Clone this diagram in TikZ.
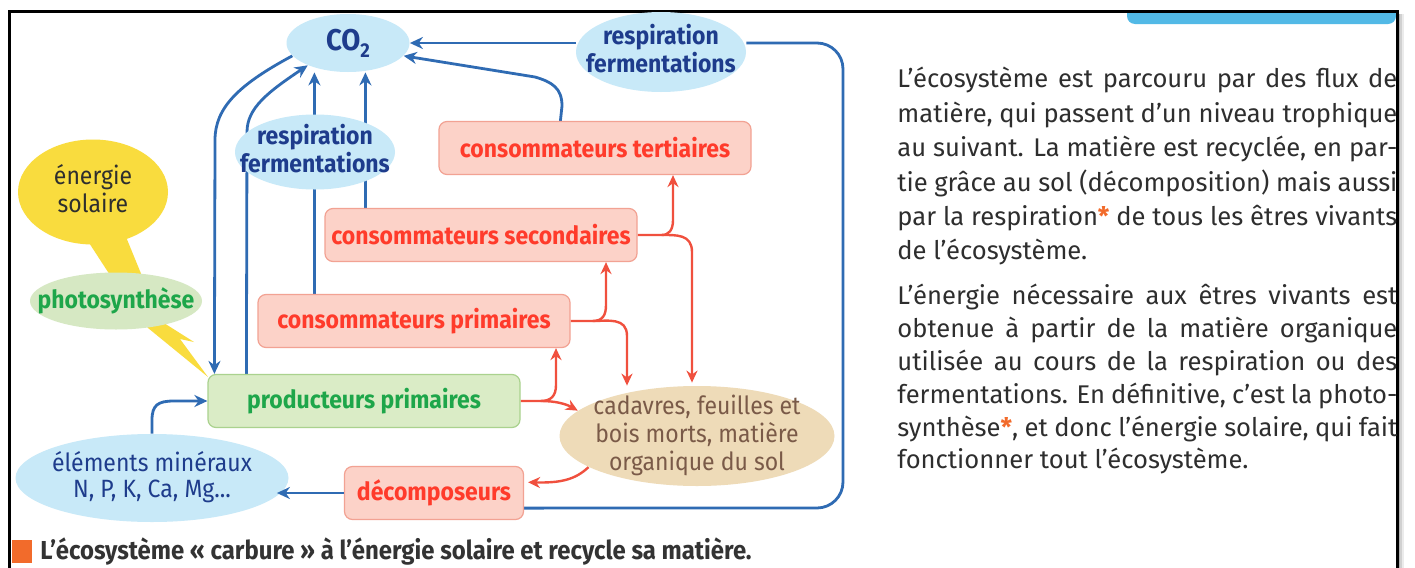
\documentclass[tikz,border=0pt]{standalone}
\usepackage{fontspec}
\setmainfont{Fira Sans}
\newfontfamily\din{Fira Sans}[FakeStretch=0.92]
\usetikzlibrary{arrows.meta,shapes.geometric,calc}
\pgfdeclarelayer{back}
\pgfdeclarelayer{bg}
\pgfsetlayers{back,bg,main}

% text of an ellipse node: centred, taking no room, so the ellipse keeps its set size
\newcommand\ellipsetext[1]{\makebox[0pt]{\smash{\raisebox{-0.26em}{%
  \begin{tabular}{@{}c@{}}#1\end{tabular}}}}}

\definecolor{skyfill}{HTML}{C8E9F8}
\definecolor{navytext}{HTML}{1E3C8C}
\definecolor{flowblue}{HTML}{2F6BB3}
\definecolor{pinkfill}{HTML}{FCD2C8}
\definecolor{pinkline}{HTML}{F2A293}
\definecolor{redtext}{HTML}{FF3B2B}
\definecolor{flowred}{HTML}{F0503E}
\definecolor{greenfill}{HTML}{DAECC6}
\definecolor{greenline}{HTML}{AAD28E}
\definecolor{greentext}{HTML}{1EA64A}
\definecolor{photofill}{HTML}{D6E8C3}
\definecolor{tanfill}{HTML}{EEDBB8}
\definecolor{browntext}{HTML}{7A5A48}
\definecolor{sunyellow}{HTML}{F9DC3E}
\definecolor{tabblue}{HTML}{52B9E6}
\definecolor{captiongrey}{HTML}{333333}
\definecolor{bodygrey}{HTML}{2E2E2E}
\definecolor{squareorange}{HTML}{F26B2B}

\tikzset{
  labelfont/.style={font=\din\bfseries\fontsize{12.5}{13}\selectfont},
  ellip/.style={ellipse, inner sep=0pt},
  sky/.style={ellip, fill=skyfill, text=navytext, labelfont},
  levelbox/.style={rounded corners=4pt, draw, line width=0.6pt, inner sep=0pt,
    minimum width=156pt, minimum height=26.5pt, labelfont},
  cons/.style={levelbox, fill=pinkfill, draw=pinkline, text=redtext},
  blueflow/.style={draw=flowblue, line width=1.4pt, -{Stealth[length=6.5pt,width=6pt]}},
  blueline/.style={draw=flowblue, line width=1.4pt},
  redflow/.style={draw=flowred, line width=1.2pt, -{Stealth[length=6pt,width=5.5pt]}},
}

\begin{document}
\begin{tikzpicture}[x=0.5pt,y=-0.5pt]
\useasboundingbox (0,0) rectangle (1415,568);

\begin{pgfonlayer}{back}
  \fill[white] (0,0) rectangle (1415,568);
  % tab at the top right, cut by the frame
  \fill[tabblue, rounded corners=4pt] (1127,0) rectangle (1396,24);
  \fill[white] (0,0) rectangle (1415,10);
\end{pgfonlayer}

% frame with its shadow
\foreach \d/\o in {2/0.30,4/0.18,6/0.08}
  \draw[black, opacity=\o, line width=1.2pt] (1397+\d,14) -- (1397+\d,568);
\draw[black, line width=1.5pt] (9,568) -- (9,11) -- (1397,11) -- (1397,568);

% ---- nodes ----
\node[sky, minimum width=61.5pt, minimum height=29pt] (co2) at (348,43)
  {\ellipsetext{\fontsize{15}{15}\selectfont CO\raisebox{-0.45ex}{\fontsize{10}{10}\selectfont 2}}};
\node[sky, minimum width=85pt, minimum height=40pt] (rt) at (661,52)
  {\ellipsetext{respiration\\fermentations}};
\node[sky, minimum width=80pt, minimum height=37.5pt] (rl) at (315,152)
  {\ellipsetext{respiration\\fermentations}};

\node[cons] (ct) at (595,148) {consommateurs tertiaires};
\node[cons] (cs) at (481,235) {consommateurs secondaires};
\node[cons] (cp) at (414,321) {consommateurs primaires};
\node[levelbox, fill=greenfill, draw=greenline, text=greentext] (prod) at (364,401) {producteurs primaires};
\node[cons, minimum width=89.5pt] (dec) at (434,493) {décomposeurs};

\node[ellip, fill=tanfill, text=browntext, minimum width=137.5pt, minimum height=50pt,
  font=\din\fontsize{12.5}{13.8}\selectfont] (cad) at (697,436)
  {\ellipsetext{cadavres, feuilles et\\bois morts, matière\\organique du sol}};
\node[ellip, fill=skyfill, text=navytext, minimum width=136.5pt, minimum height=44pt,
  font=\din\fontsize{12.5}{13}\selectfont] (min) at (152,478)
  {\ellipsetext{éléments minéraux\\N, P, K, Ca, Mg...}};

\node[ellip, fill=sunyellow, text=bodygrey, minimum width=75pt, minimum height=52.5pt,
  font=\din\fontsize{12.5}{13}\selectfont] (sun) at (93,192) {\ellipsetext{énergie\\solaire}};
\node[ellip, fill=photofill, text=greentext, minimum width=86pt, minimum height=28.5pt,
  labelfont] (photo) at (116,301) {\ellipsetext{photosynthèse}};

% junctions and bends of the flows
\coordinate (j1) at ($(prod.east)+(20,0)$);
\coordinate (j2) at ($(cp.east)+(22,0)$);
\coordinate (j3) at ($(cs.east)+(24,0)$);
\coordinate (loopR) at (843,0);
\coordinate (cpTop) at ($(cp.north west)+(57,0)$);
\coordinate (csTop) at ($(cs.north west)+(41,0)$);
\coordinate (ctTop) at ($(ct.north west)+(122,0)$);
\coordinate (prodIn) at ($(prod.north west)+(7,0)$);
\coordinate (prodOut) at ($(prod.north west)+(39,0)$);
\coordinate (minIn) at ($(dec.west -| min.east)+(-12,0)$);

\begin{pgfonlayer}{bg}
  % light bolt from the sun to the producers
  \fill[sunyellow] (82,232) -- (124,232) -- (142,276) -- (156,318) -- (194,342)
    -- (180,339) -- (208,377) -- (148,328) -- (108,272) -- cycle;

  % carbon flows
  \draw[blueflow] (co2.193) .. controls (238,85) and (215,108) .. (215,140) -- (prodIn);
  \draw[blueflow] (prodOut) -- (247,132) .. controls (247,108) and (268,92) .. (co2.209);
  \draw[blueflow] (cpTop) -- (cpTop |- co2.south);
  \draw[blueflow] (csTop) -- (csTop |- co2.south);
  \draw[blueflow] (ctTop) -- (562,106) .. controls (562,88) and (552,82) .. (535,77) -- (co2.347);
  \draw[blueflow] (rt.west |- co2.east) -- (co2.east);
  \draw[blueline, rounded corners=13pt] ($(dec.south east)+(0,-12)$) -- (loopR |- 0,508)
    -- (loopR |- co2.east) -- (rt.east |- co2.east);
  \draw[blueflow] (min.north) -- (152,420) .. controls (152,405) and (158,401) .. (174,401)
    -- (prod.west);

  % matter flows along the food chain
  \draw[redflow] (prod.east) -- (j1) .. controls (551,401) and (556,396) .. (556,385)
    -- (cp.south -| 556,0);
  \draw[redflow] (j1) .. controls (556,401) and (566,404) .. (cad.168);
  \draw[redflow] (cp.east) -- (j2) .. controls (602,321) and (606,316) .. (606,305)
    -- (cs.south -| 606,0);
  \draw[redflow] (j2) .. controls (608,321) and (627,317) .. (627,336)
    -- (cad.north -| 627,0);
  \draw[redflow] (cs.east) -- (j3) .. controls (669,235) and (673,230) .. (673,220)
    -- (ct.south -| 673,0);
  \draw[redflow] (j3) .. controls (676,235) and (692,234) .. (692,252)
    -- ($(cad.north -| 692,0)+(0,-3)$);
  \draw[redflow, shorten >=2pt] (cad.196) .. controls (575,480) and (560,483)
    .. ($(dec.north east)!0.3!(dec.south east)$);
\end{pgfonlayer}

% return of the minerals, its tip lying on the ellipse
\draw[blueflow] (dec.west) -- (minIn);

% ---- text beside the diagram ----
\node[anchor=north west, inner sep=0pt, text=bodygrey, align=left,
  font=\fontsize{12.8}{17.2}\selectfont] (para1) at (897,67) {%
  \makebox[250pt][s]{L’écosystème est parcouru par des flux de}\\
  \makebox[250pt][s]{matière, qui passent d’un niveau trophique}\\
  \makebox[250pt][s]{au suivant. La matière est recyclée, en par-}\\
  \makebox[250pt][s]{tie grâce au sol (décomposition) mais aussi}\\
  \makebox[250pt][s]{par la respiration{\color{squareorange}\textbf{*}} de tous les êtres vivants}\\
  de l’écosystème.};
\node[anchor=north west, inner sep=0pt, text=bodygrey, align=left,
  font=\fontsize{12.8}{16.4}\selectfont] (para2) at (897,284) {%
  \makebox[250pt][s]{L’énergie nécessaire aux êtres vivants est}\\
  \makebox[250pt][s]{obtenue à partir de la matière organique}\\
  \makebox[250pt][s]{utilisée au cours de la respiration ou des}\\
  \makebox[250pt][s]{fermentations. En définitive, c’est la photo-}\\
  \makebox[250pt][s]{synthèse{\color{squareorange}\textbf{*}}, et donc l’énergie solaire, qui fait}\\
  fonctionner tout l’écosystème.};

% ---- caption ----
\fill[squareorange] (12,540) rectangle (32,563);
\node[anchor=west, inner sep=0pt, text=captiongrey,
  font=\din\bfseries\fontsize{13}{14}\selectfont] (caption) at (40,552)
  {L’écosystème « carbure » à l’énergie solaire et recycle sa matière.};
\end{tikzpicture}
\end{document}
